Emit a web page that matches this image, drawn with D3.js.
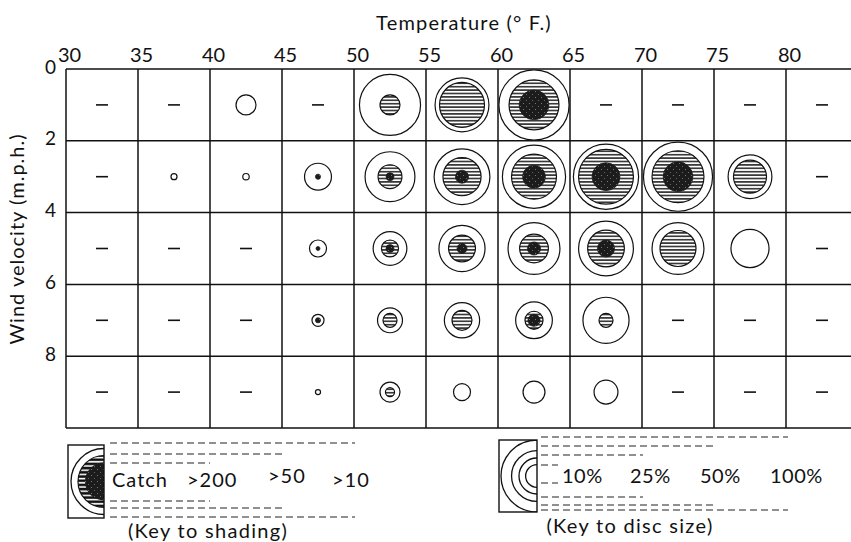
<!DOCTYPE html>
<html>
<head>
<meta charset="utf-8">
<script src="https://cdn.jsdelivr.net/npm/d3@7"></script>
<style>
  body { margin: 0; background: #fff; }
  text { font-family: Lato, "Open Sans", sans-serif; fill: #111; }
</style>
</head>
<body>
<svg id="chart" width="851" height="542"></svg>
<script>
// Lower edges of the temperature (°F) and wind-velocity (m.p.h.) classes
const tempBins = [30, 35, 40, 45, 50, 55, 60, 65, 70, 75, 80];
const windBins = [0, 2, 4, 6, 8];
const tempTicks = [30, 35, 40, 45, 50, 55, 60, 65, 70, 75, 80];
const windTicks = [0, 2, 4, 6, 8];

// Percentage of catches above each size, one row per wind class,
// one column per temperature class; null = no catch recorded (dash).
const pctOver10 = [
  [null, null, 7.7, null, 72, 56, 95, null, null, null, null],
  [null, 0.7, 0.8, 14, 48, 60, 77, 82, 92, 37, null],
  [null, null, null, 5.6, 22, 41, 52, 58, 52, 28, null],
  [null, null, null, 2.8, 12, 24, 26, 41, null, null, null],
  [null, null, null, 0.5, 7.7, 5.6, 9.3, 11, null, null, null]
];
const pctOver50 = [
  [0, 0, 0, 0, 7.7, 39, 48, 0, 0, 0, 0],
  [0, 0, 0, 0, 11, 28, 39, 58, 52, 21, 0],
  [0, 0, 0, 0, 5.6, 14, 16, 26, 25, 0, 0],
  [0, 0, 0, 0, 3.8, 7.7, 6.3, 3.8, 0, 0, 0],
  [0, 0, 0, 0, 1.6, 0, 0, 0, 0, 0, 0]
];
const pctOver200 = [
  [0, 0, 0, 0, 0, 0, 17, 0, 0, 0, 0],
  [0, 0, 0, 0.5, 1.2, 3.3, 10, 15, 17, 0, 0],
  [0, 0, 0, 0.3, 1.2, 1.9, 3.3, 5.6, 0, 0, 0],
  [0, 0, 0, 0.5, 0, 0, 2.8, 0, 0, 0, 0],
  [0, 0, 0, 0, 0, 0, 0, 0, 0, 0, 0]
];

// Legend content
const catchLabels = ["Catch", ">200", ">50", ">10"];
const sizeKeyPct = [10, 25, 50, 100];

const svg = d3.select("#chart");
const ink = "#111";

const x = d3.scaleLinear().domain([30, 85]).range([66, 858]);
const y = d3.scaleLinear().domain([0, 10]).range([69, 428]);
const r = d3.scaleSqrt().domain([0, 100]).range([0, 36]);

// Patterns: horizontal hatching and dark stipple
const defs = svg.append("defs");
const hatch = defs.append("pattern")
  .attr("id", "hatch").attr("patternUnits", "userSpaceOnUse")
  .attr("width", 8).attr("height", 3.4);
hatch.append("rect").attr("width", 8).attr("height", 3.4).attr("fill", "#fff");
hatch.append("rect").attr("y", 1).attr("width", 8).attr("height", 1.4).attr("fill", ink);

const hatchKey = defs.append("pattern")
  .attr("id", "hatchKey").attr("patternUnits", "userSpaceOnUse")
  .attr("width", 8).attr("height", 4.2);
hatchKey.append("rect").attr("width", 8).attr("height", 4.2).attr("fill", "#fff");
hatchKey.append("rect").attr("y", 0.6).attr("width", 8).attr("height", 2.6).attr("fill", ink);

const stipple = defs.append("pattern")
  .attr("id", "stipple").attr("patternUnits", "userSpaceOnUse")
  .attr("width", 6).attr("height", 6);
stipple.append("rect").attr("width", 6).attr("height", 6).attr("fill", "#1c1c1c");
stipple.append("rect").attr("x", 1).attr("y", 1).attr("width", 1).attr("height", 1).attr("fill", "#777");
stipple.append("rect").attr("x", 4).attr("y", 4).attr("width", 1).attr("height", 1).attr("fill", "#666");

// Grid
const grid = svg.append("g").attr("stroke", ink).attr("stroke-width", 1.5);
grid.selectAll("line.v").data(d3.range(30, 86, 5)).join("line")
  .attr("class", "v")
  .attr("x1", d => x(d)).attr("x2", d => x(d))
  .attr("y1", y(0)).attr("y2", y(10));
grid.selectAll("line.h").data(d3.range(0, 11, 2)).join("line")
  .attr("class", "h")
  .attr("x1", x(30)).attr("x2", x(85))
  .attr("y1", d => y(d)).attr("y2", d => y(d));

// Cells
const cells = [];
windBins.forEach((w, i) => {
  tempBins.forEach((t, j) => {
    cells.push({ t, w, o: pctOver10[i][j], h: pctOver50[i][j], b: pctOver200[i][j] });
  });
});

const cg = svg.append("g");
cells.forEach(c => {
  const cx = x(c.t + 2.5), cy = y(c.w + 1);
  if (c.o === null) {
    cg.append("line")
      .attr("x1", cx - 6).attr("x2", cx + 6)
      .attr("y1", cy).attr("y2", cy)
      .attr("stroke", ink).attr("stroke-width", 1.6);
    return;
  }
  cg.append("circle").attr("cx", cx).attr("cy", cy).attr("r", r(c.o))
    .attr("fill", "#fff").attr("stroke", ink).attr("stroke-width", 1.2);
  if (c.h > 0) {
    cg.append("circle").attr("cx", cx).attr("cy", cy).attr("r", r(c.h))
      .attr("fill", "url(#hatch)").attr("stroke", ink).attr("stroke-width", 1.2);
  }
  if (c.b > 0) {
    cg.append("circle").attr("cx", cx).attr("cy", cy).attr("r", r(c.b))
      .attr("fill", "url(#stipple)").attr("stroke", "#1c1c1c").attr("stroke-width", 0.8);
  }
});

// Axes
const xAxis = svg.append("g").attr("transform", "translate(3,62)")
  .call(d3.axisTop(x).tickValues(tempTicks).tickSize(0).tickPadding(0));
xAxis.select(".domain").remove();
xAxis.selectAll("text").style("font-size", "20px").style("font-family", "Lato, sans-serif").attr("fill", ink);

const yAxis = svg.append("g").attr("transform", "translate(56,-2)")
  .call(d3.axisLeft(y).tickValues(windTicks).tickSize(0).tickPadding(0));
yAxis.select(".domain").remove();
yAxis.selectAll("text").style("font-size", "19px").style("font-family", "Lato, sans-serif").attr("fill", ink);

svg.append("text").attr("x", 464).attr("y", 30)
  .attr("text-anchor", "middle").style("font-size", "20px")
  .style("letter-spacing", "1.2px")
  .text("Temperature (° F.)");

svg.append("text").attr("transform", "translate(24,239) rotate(-90)")
  .attr("text-anchor", "middle").style("font-size", "20px")
  .style("letter-spacing", "1px")
  .text("Wind velocity (m.p.h.)");

// Guide lines fanning out of a key box
function guides(g, x0, ys) {
  g.selectAll("line.guide").data(ys).join("line")
    .attr("class", "guide")
    .attr("x1", x0).attr("x2", d => d[1])
    .attr("y1", d => d[0]).attr("y2", d => d[0])
    .attr("stroke", "#222").attr("stroke-width", 1.2)
    .attr("stroke-dasharray", "7,4");
}

// Key to shading
const k1 = svg.append("g");
const k1box = { x: 68, y: 445, w: 36, h: 73 };
defs.append("clipPath").attr("id", "clipK1").append("rect")
  .attr("x", k1box.x).attr("y", k1box.y).attr("width", k1box.w).attr("height", k1box.h);
const k1c = { x: k1box.x + k1box.w, y: k1box.y + k1box.h / 2 };
const k1g = k1.append("g").attr("clip-path", "url(#clipK1)");
k1g.append("circle").attr("cx", k1c.x).attr("cy", k1c.y).attr("r", 33)
  .attr("fill", "#fff").attr("stroke", ink).attr("stroke-width", 1.3);
k1g.append("circle").attr("cx", k1c.x).attr("cy", k1c.y).attr("r", 26)
  .attr("fill", "url(#hatchKey)").attr("stroke", ink).attr("stroke-width", 1.2);
k1g.append("circle").attr("cx", k1c.x).attr("cy", k1c.y).attr("r", 19)
  .attr("fill", "url(#stipple)");
k1.append("rect").attr("x", k1box.x).attr("y", k1box.y)
  .attr("width", k1box.w).attr("height", k1box.h)
  .attr("fill", "none").attr("stroke", ink).attr("stroke-width", 1.4);
guides(k1, 110, [[443, 355], [454, 282], [463, 210], [501, 210], [508, 283], [517, 355]]);
const catchX = [112, 187, 268, 332];
const catchDy = [0, 0, -4, 0];
k1.selectAll("text.lab").data(catchLabels).join("text")
  .attr("class", "lab")
  .attr("x", (d, i) => catchX[i]).attr("y", (d, i) => 487 + catchDy[i])
  .style("font-size", "20px").style("letter-spacing", "1px").text(d => d);
k1.append("text").attr("x", 208).attr("y", 538).attr("text-anchor", "middle")
  .style("font-size", "20px").style("letter-spacing", "1.3px").text("(Key to shading)");

// Key to disc size
const k2 = svg.append("g");
const k2box = { x: 499, y: 440, w: 38, h: 72 };
defs.append("clipPath").attr("id", "clipK2").append("rect")
  .attr("x", k2box.x).attr("y", k2box.y).attr("width", k2box.w).attr("height", k2box.h);
const k2c = { x: k2box.x + k2box.w, y: k2box.y + k2box.h / 2 };
k2.append("g").attr("clip-path", "url(#clipK2)")
  .selectAll("circle").data(sizeKeyPct).join("circle")
  .attr("cx", k2c.x).attr("cy", k2c.y).attr("r", d => r(d))
  .attr("fill", "none").attr("stroke", ink).attr("stroke-width", 1.3);
k2.append("rect").attr("x", k2box.x).attr("y", k2box.y)
  .attr("width", k2box.w).attr("height", k2box.h)
  .attr("fill", "none").attr("stroke", ink).attr("stroke-width", 1.4);
guides(k2, 541, [[437, 788], [446, 717], [455, 643], [465, 558], [483, 558], [497, 643], [505, 717], [510, 788]]);
const sizeX = [562, 630, 700, 770];
k2.selectAll("text.lab").data(sizeKeyPct).join("text")
  .attr("class", "lab")
  .attr("x", (d, i) => sizeX[i]).attr("y", 483)
  .style("font-size", "20px").style("letter-spacing", "0.5px").text(d => d + "%");
k2.append("text").attr("x", 630).attr("y", 533).attr("text-anchor", "middle")
  .style("font-size", "20px").style("letter-spacing", "1.3px").text("(Key to disc size)");
</script>
</body>
</html>
